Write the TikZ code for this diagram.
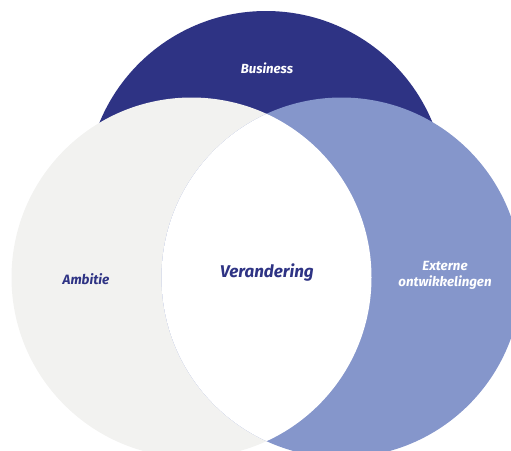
\documentclass[tikz,border=0pt]{standalone}
\usepackage{fontspec}
\setmainfont{Fira Sans}
\usepackage{tikz}
\definecolor{VennNavy}{RGB}{46,51,132}
\definecolor{VennBlue}{RGB}{133,150,203}
\definecolor{VennGrey}{RGB}{242,242,240}

\begin{document}
\begin{tikzpicture}[x=1pt,y=-1pt,lbl/.style={font=\bfseries\itshape\fontsize{#1}{16}\selectfont,align=center,inner sep=0pt}]
\clip (0,0) rectangle (511,450);
\coordinate (cb) at (266,191);
\coordinate (ca) at (191.5,277.5);
\coordinate (ce) at (341.5,277.5);
\foreach \c/\k in %
{cb/VennNavy,ca/VennGrey,ce/VennBlue} {
   \fill[\k] (\c) circle (180pt);
}
\begin{scope}
   \clip (ca) circle (180pt);
   \fill[white] (ce) circle (180pt);
\end{scope}
   \node[lbl=13.2,text=white] (business) at (267,68) {Business};
   \node[lbl=13.5,text=VennNavy] (ambitie) at (86,279) {Ambitie};
   \node[lbl=17,text=VennNavy] (verandering) at (267,273) {Verandering};
   \node[lbl=13.3,text=white] (extern) at (445,275) {Externe\\ontwikkelingen};
\end{tikzpicture}
\end{document}
